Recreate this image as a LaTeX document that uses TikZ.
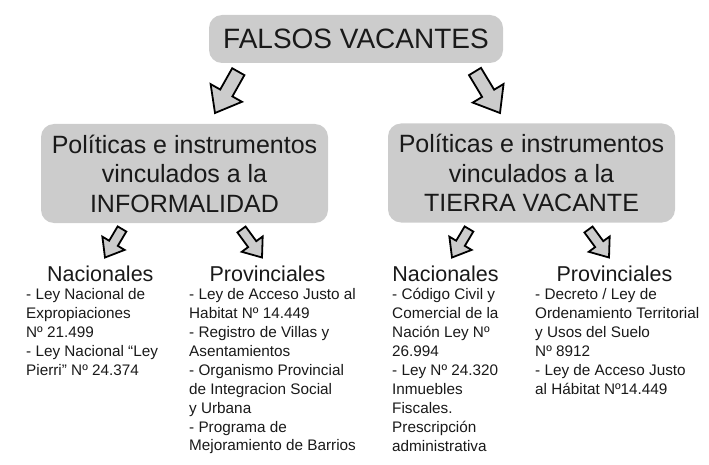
\documentclass[tikz,border=0pt]{standalone}
\usepackage{fontspec}
\setmainfont{Liberation Sans}
\usetikzlibrary{calc}

% Block arrow from #2 (tail) to #3 (tip), scaled by #1
\newcommand{\flecha}[3][1]{%
  \coordinate (fb) at ($(#3)!#1*23pt!(#2)$);
  \filldraw[flecha]
    ($(#2)!#1*7pt!90:(#3)$) -- ($(fb)!#1*7pt!90:(#3)$)
    -- ($(fb)!#1*18pt!90:(#3)$) -- (#3)
    -- ($(fb)!#1*18pt!-90:(#3)$) -- ($(fb)!#1*7pt!-90:(#3)$)
    -- ($(#2)!#1*7pt!-90:(#3)$) -- cycle;}

\begin{document}
\begin{tikzpicture}[x=1pt,y=-1pt,
    caja/.style={fill=gray!40,rounded corners=13pt,inner sep=0pt,
      align=center,text=black!90},
    flecha/.style={fill=gray!40,draw=black,line width=1.8pt},
    encab/.style={inner sep=0pt,anchor=base,text=black!90,font=\encabezado},
    lista/.style={inner sep=0pt,align=left,anchor=north west,text=black!90,
      font=\listatexto,execute at begin node=\strut}]
  % Font sizes
  \newcommand{\titulo}{\fontsize{28}{34}\selectfont}        % top box
  \newcommand{\textocaja}{\fontsize{25}{29.5}\selectfont}   % second level boxes
  \newcommand{\encabezado}{\fontsize{21.5}{26}\selectfont}  % column headers
  \newcommand{\listatexto}{\fontsize{15.3}{18.9}\selectfont}% lists (strut 13.2)
  %
  \useasboundingbox (0,0) rectangle (709,465);
  %
  % Boxes
  \node[caja,minimum width=294,minimum height=48,font=\titulo]
    (falsos) at (356,39) {FALSOS VACANTES};
  \node[caja,minimum width=287,minimum height=99,font=\textocaja]
    (informal) at (184.5,173.5)
    {Políticas e instrumentos\\vinculados a la\\INFORMALIDAD};
  \node[caja,minimum width=287,minimum height=99,font=\textocaja]
    (vacante) at (531.5,173)
    {Políticas e instrumentos\\vinculados a la\\TIERRA VACANTE};
  %
  % Column headers
  \node[encab] (infnac)  at (100.3,281) {Nacionales};
  \node[encab] (infprov) at (267.5,281) {Provinciales};
  \node[encab] (vacnac)  at (445.5,281) {Nacionales};
  \node[encab] (vacprov) at (614.5,281) {Provinciales};
  %
  % Lists (first baseline at 301.7)
  \node[lista] (infnaclista) at (26,288.5)
    {- Ley Nacional de\\Expropiaciones\\Nº 21.499\\
     - Ley Nacional “Ley\\Pierri” Nº 24.374};
  \node[lista] (infprovlista) at (189,288.5)
    {- Ley de Acceso Justo al\\Habitat Nº 14.449\\
     - Registro de Villas y\\Asentamientos\\
     - Organismo Provincial\\de Integracion Social\\y Urbana\\
     - Programa de\\Mejoramiento de Barrios};
  \node[lista] (vacnaclista) at (392,288.5)
    {- Código Civil y\\Comercial de la\\Nación Ley Nº\\26.994\\
     - Ley Nº 24.320\\Inmuebles\\Fiscales.\\Prescripción\\administrativa};
  \node[lista] (vacprovlista) at (535,288.5)
    {- Decreto / Ley de\\Ordenamiento Territorial\\y Usos del Suelo\\Nº 8912\\
     - Ley de Acceso Justo\\al Hábitat Nº14.449};
  %
  % Arrow ends
  \coordinate (f1a) at (238.3,71.7);  \coordinate (f1b) at (215,113);
  \coordinate (f2a) at (475,71.5);    \coordinate (f2b) at (500,113);
  \coordinate (f3a) at (122,229);     \coordinate (f3b) at (105,257.5);
  \coordinate (f4a) at (241.5,229.5); \coordinate (f4b) at (262,257.5);
  \coordinate (f5a) at (469,229);     \coordinate (f5b) at (452,257.5);
  \coordinate (f6a) at (588.5,229.5); \coordinate (f6b) at (609,257.5);
  %
  % Arrows
  \flecha{f1a}{f1b}
  \flecha{f2a}{f2b}
  \flecha[0.72]{f3a}{f3b}
  \flecha[0.72]{f4a}{f4b}
  \flecha[0.72]{f5a}{f5b}
  \flecha[0.72]{f6a}{f6b}
  %
\end{tikzpicture}
\end{document}
